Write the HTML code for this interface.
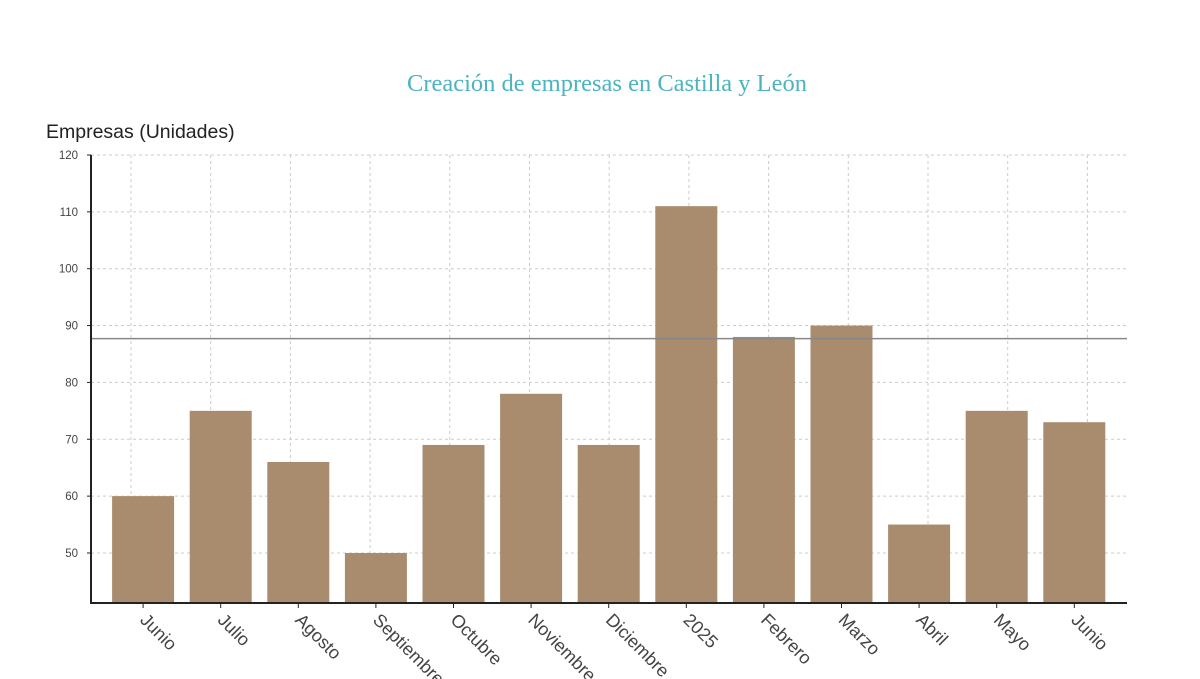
<!DOCTYPE html>
<html><head><meta charset="utf-8"><style>
body{margin:0;background:#fff;}
svg{display:block;font-family:"Liberation Sans",sans-serif;}
</style></head><body>
<svg id="c" width="1200" height="679">
<text x="607" y="91" text-anchor="middle" font-family="Liberation Serif,serif" font-size="24.5" fill="#4bb3c1">Creación de empresas en Castilla y León</text>
<text x="46" y="138" font-size="19.5" fill="#222">Empresas (Unidades)</text>
<g id="grid"></g><g id="bars"></g><g id="axes"></g>
</svg>
<script>
const categories=["Junio","Julio","Agosto","Septiembre","Octubre","Noviembre","Diciembre","2025","Febrero","Marzo","Abril","Mayo","Junio"];
const values=[60,75,66,50,69,78,69,111,88,90,55,75,73];
const yTicks=[50,60,70,80,90,100,110,120];
const refValue=[87.7];
const NS="http://www.w3.org/2000/svg";
const X0=91,X1=1127,Yb=603,Yt=155,vMin=41.2,vMax=120;
const y=v=>Yb-(v-vMin)/(vMax-vMin)*(Yb-Yt);
const step=77.6,start=104.3;
const xc=i=>start+step*(i+0.5);
function mk(t,a,p){const e=document.createElementNS(NS,t);for(const k in a)e.setAttribute(k,a[k]);p.appendChild(e);return e;}
const grid=document.getElementById('grid'),bars=document.getElementById('bars'),axes=document.getElementById('axes');
for(let k=0;k<13;k++){const gx=131+79.7*k;
const l=mk('line',{x1:gx,x2:gx,y1:Yt,y2:Yb,stroke:'#ccc','stroke-dasharray':'3,3'},grid);

}
yTicks.forEach(v=>{
const l=mk('line',{x1:X0,x2:X1,y1:y(v),y2:y(v),stroke:'#ccc','stroke-dasharray':'3,3'},grid);


mk('line',{x1:X0-4,x2:X0,y1:y(v),y2:y(v),stroke:'#222'},axes);
const t=mk('text',{x:X0-13,y:y(v)+4,'text-anchor':'end','font-size':11.5,fill:'#444'},axes);t.textContent=v;


});
values.forEach((v,i)=>{
const r=mk('rect',{x:xc(i)-31,y:y(v),width:62,height:Yb-y(v),fill:'#a98c6d'},bars);


mk('line',{x1:xc(i),x2:xc(i),y1:Yb,y2:Yb+5,stroke:'#222'},axes);
const t=mk('text',{x:xc(i)-4,y:Yb+18,'font-size':18,fill:'#444',transform:`rotate(45 ${xc(i)-4} ${Yb+18})`},axes);t.textContent=categories[i];


});
const rl=mk('line',{x1:X0,x2:X1,y1:y(refValue[0]),y2:y(refValue[0]),stroke:'#888','stroke-width':1.5},axes);


const ya=mk('line',{x1:X0,x2:X0,y1:Yt,y2:Yb+1,stroke:'#222','stroke-width':2},axes);


const xa=mk('line',{x1:X0,x2:X1,y1:Yb,y2:Yb,stroke:'#222','stroke-width':2},axes);


</script>
</body></html>
